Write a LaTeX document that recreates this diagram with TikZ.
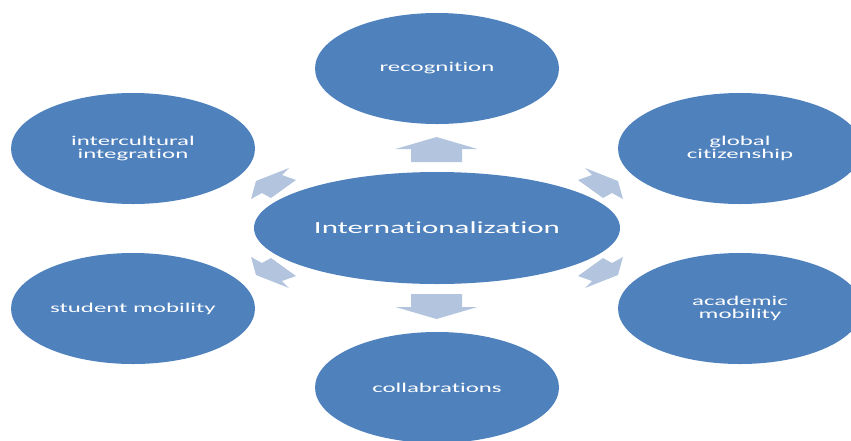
\documentclass[tikz,border=0pt]{standalone}
\usepackage{fontspec}
\setmainfont[Ligatures={NoCommon}]{Carlito}
\usepackage{graphicx}
\usetikzlibrary{shapes.geometric}
\definecolor{ellblue}{HTML}{4F81BD}
\definecolor{arrblue}{RGB}{179,196,222}
\newcommand{\wide}[2]{\scalebox{#1}[1]{#2}}
\newcommand{\satfont}{\fontsize{13.5}{13}\selectfont\lineskiplimit=-20pt\relax}
\begin{document}
\begin{tikzpicture}[x=1pt,y=-1pt,
  sat/.style={ellipse, fill=ellblue, minimum width=244pt, minimum height=111pt,
    inner sep=0pt, text=white, align=center, font=\satfont},
  hub/.style={ellipse, fill=ellblue, minimum width=366pt, minimum height=112pt,
    inner sep=0pt, text=white, font=\fontsize{17}{20}\selectfont},
  blockarrow/.style={fill=arrblue}]
\clip (0,0) rectangle (851,440);
% block arrows (up / down)
\foreach \s in {1,-1}{
  \begin{scope}[shift={(436.5,228)}, yscale=\s]
    \fill[blockarrow] (0,-91) -- (41,-79) -- (25.5,-79) -- (25.5,-66)
      -- (-25.5,-66) -- (-25.5,-79) -- (-41,-79) -- cycle;
  \end{scope}
}
% diagonal block arrows
\foreach \sx in {1,-1}{
  \foreach \sy in {1,-1}{
    \begin{scope}[shift={(437,228)}, xscale=\sx, yscale=\sy]
      \fill[blockarrow] (181,-47) -- (186,-29) -- (175,-35) -- (166,-30)
        -- (141,-48) -- (155,-53) -- (148,-60) -- cycle;
    \end{scope}
  }
}
% ellipses
\node[hub] (hub) at (437,228) {\wide{1.82}{Internationalization}};
\node[sat] (rec) at (437,68.5) {\wide{1.84}{recognition}};
\node[sat] (glob) at (740,148.5) {\wide{1.84}{global}\\\wide{1.84}{citizenship}};
\node[sat] (acad) at (740,308.5) {\wide{1.84}{academic}\\\wide{1.84}{mobility}};
\node[sat] (coll) at (437,387.5) {\wide{1.84}{collabrations}};
\node[sat] (stud) at (133,308.5) {\wide{1.84}{student mobility}};
\node[sat] (inter) at (133,148.5) {\wide{1.84}{intercultural}\\\wide{1.84}{integration}};
\end{tikzpicture}
\end{document}
